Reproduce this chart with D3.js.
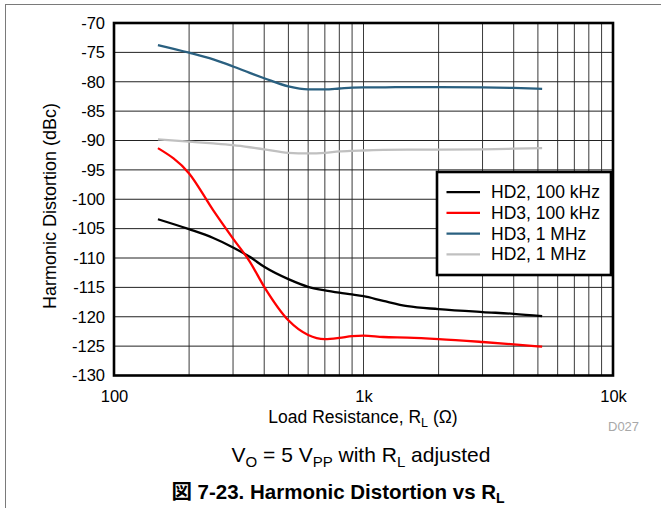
<!DOCTYPE html>
<html><head><meta charset="utf-8">
<script src="https://cdn.jsdelivr.net/npm/d3@7"></script>
<style>
html,body{margin:0;padding:0;background:#fff;}
svg text{font-family:"Liberation Sans",Arial,Helvetica,"Noto Sans CJK JP",sans-serif;}
</style></head>
<body>
<svg id="c" width="661" height="508"></svg>
<script>
// ---- data ----
const loadResistance = [150, 200, 250, 300, 350, 400, 500, 600, 700, 800, 900, 1000, 1200, 1500, 2000, 3000, 4000, 5200];
const hd2_100k = [-103.4, -105.1, -106.6, -108.2, -109.8, -111.5, -113.6, -114.9, -115.5, -115.9, -116.2, -116.5, -117.3, -118.2, -118.7, -119.2, -119.5, -119.9];
const hd3_100k = [-91.3, -95.6, -101.9, -106.7, -110.6, -114.9, -120.6, -123.1, -123.8, -123.6, -123.3, -123.2, -123.45, -123.55, -123.8, -124.3, -124.7, -125.1];
const hd3_1M = [-73.75, -75.05, -76.2, -77.4, -78.5, -79.4, -80.8, -81.3, -81.3, -81.15, -81.0, -80.95, -80.95, -80.9, -80.9, -80.95, -81.05, -81.2];
const hd2_1M = [-89.8, -90.2, -90.5, -90.8, -91.15, -91.5, -92.1, -92.2, -92.1, -91.85, -91.75, -91.7, -91.6, -91.55, -91.55, -91.5, -91.4, -91.3];
const seriesNames = ["HD2, 100 kHz", "HD3, 100 kHz", "HD3, 1 MHz", "HD2, 1 MHz"];
const seriesColors = ["#000000", "#ff0000", "#2a6080", "#c0c0c0"];
const yTickValues = [-70, -75, -80, -85, -90, -95, -100, -105, -110, -115, -120, -125, -130];
const xTickValues = [100, 1000, 10000];
const xTickLabels = ["100", "1k", "10k"];

const svg = d3.select("#c");
const L = 114, R = 613, T = 23, B = 375.5;
const x = d3.scaleLog().domain([100, 10000]).range([L, R]);
const y = d3.scaleLinear().domain([-130, -70]).range([B, T]);

// outer frame lines
svg.append("line").attr("x1", 5).attr("x2", 661).attr("y1", 4.5).attr("y2", 4.5).attr("stroke", "#7a7a7a").attr("stroke-width", 1);
svg.append("line").attr("x1", 5.5).attr("x2", 5.5).attr("y1", 4).attr("y2", 508).attr("stroke", "#7a7a7a").attr("stroke-width", 1);

// grid
const minorX = [];
for (let d = 100; d < 10000; d *= 10) for (let k = 2; k <= 9; k++) minorX.push(d * k);
minorX.push(1000);
svg.append("g").selectAll("line").data(minorX).join("line")
  .attr("x1", d => x(d)).attr("x2", d => x(d)).attr("y1", T).attr("y2", B)
  .attr("stroke", "#3a3a3a").attr("stroke-width", 1);
svg.append("g").selectAll("line").data(yTickValues).join("line")
  .attr("x1", L).attr("x2", R).attr("y1", d => y(d)).attr("y2", d => y(d))
  .attr("stroke", "#222").attr("stroke-width", 1);

// series
const series = [hd2_100k, hd3_100k, hd3_1M, hd2_1M];
const line = d3.line().x(d => x(d[0])).y(d => y(d[1])).curve(d3.curveMonotoneX);
const drawOrder = [3, 2, 0, 1];
drawOrder.forEach(i => {
  const pts = loadResistance.map((r, j) => [r, series[i][j]]);
  svg.append("path").attr("d", line(pts)).attr("fill", "none")
    .attr("stroke", seriesColors[i]).attr("stroke-width", 2.3);
});

// plot border
svg.append("rect").attr("x", L).attr("y", T).attr("width", R - L).attr("height", B - T)
  .attr("fill", "none").attr("stroke", "#000").attr("stroke-width", 2.6);

// axes labels
const yAxis = svg.append("g").attr("transform", `translate(${L},0)`)
  .call(d3.axisLeft(y).tickValues(yTickValues).tickSize(0).tickPadding(9).tickFormat(d => d));
yAxis.select(".domain").remove();
yAxis.selectAll("text").attr("font-size", 16.5).attr("fill", "#000")
  .style("font-family", '"Liberation Sans",Arial,sans-serif');

const xAxis = svg.append("g").attr("transform", `translate(0,${B})`)
  .call(d3.axisBottom(x).tickValues(xTickValues).tickSize(0).tickPadding(14.5).tickFormat((d, i) => xTickLabels[i]));
xAxis.select(".domain").remove();
xAxis.selectAll("text").attr("font-size", 16.5).attr("fill", "#000")
  .style("font-family", '"Liberation Sans",Arial,sans-serif');

// y title
svg.append("text").attr("transform", "translate(56,206) rotate(-90)")
  .attr("text-anchor", "middle").attr("font-size", 18).text("Harmonic Distortion (dBc)");

// x title
const xt = svg.append("text").attr("x", 363).attr("y", 423).attr("text-anchor", "middle").attr("font-size", 17.5);
xt.append("tspan").text("Load Resistance, R");
xt.append("tspan").attr("font-size", 12.5).attr("dy", 4).text("L");
xt.append("tspan").attr("dy", -4).text(" (\u03A9)");

// D027
svg.append("text").attr("x", 608).attr("y", 430.5).attr("font-size", 13).attr("fill", "#a8a8a8").text("D027");

// subtitle
const st = svg.append("text").attr("x", 361).attr("y", 462).attr("text-anchor", "middle").attr("font-size", 21);
st.append("tspan").text("V");
st.append("tspan").attr("font-size", 15).attr("dy", 5).text("O");
st.append("tspan").attr("dy", -5).text(" = 5 V");
st.append("tspan").attr("font-size", 15).attr("dy", 5).text("PP");
st.append("tspan").attr("dy", -5).text(" with R");
st.append("tspan").attr("font-size", 15).attr("dy", 5).text("L");
st.append("tspan").attr("dy", -5).text(" adjusted");

// figure title
const tt = svg.append("text").attr("x", 338).attr("y", 499).attr("text-anchor", "middle")
  .attr("font-size", 20.5).attr("font-weight", "bold");
tt.append("tspan").text("\u56F3 7-23. Harmonic Distortion vs R");
tt.append("tspan").attr("font-size", 14).attr("dy", 3.5).text("L");

// legend
const lg = svg.append("g");
lg.append("rect").attr("x", 437).attr("y", 172).attr("width", 174).attr("height", 103)
  .attr("fill", "#fff").attr("stroke", "#000").attr("stroke-width", 2.6);
seriesNames.forEach((n, i) => {
  const yy = 192.2 + i * 20.7;
  lg.append("line").attr("x1", 446.5).attr("x2", 480).attr("y1", yy).attr("y2", yy)
    .attr("stroke", seriesColors[i]).attr("stroke-width", 2.3);
  lg.append("text").attr("x", 491).attr("y", yy).attr("dominant-baseline", "central")
    .attr("font-size", 17.5).text(n);
});
</script>
</body></html>
